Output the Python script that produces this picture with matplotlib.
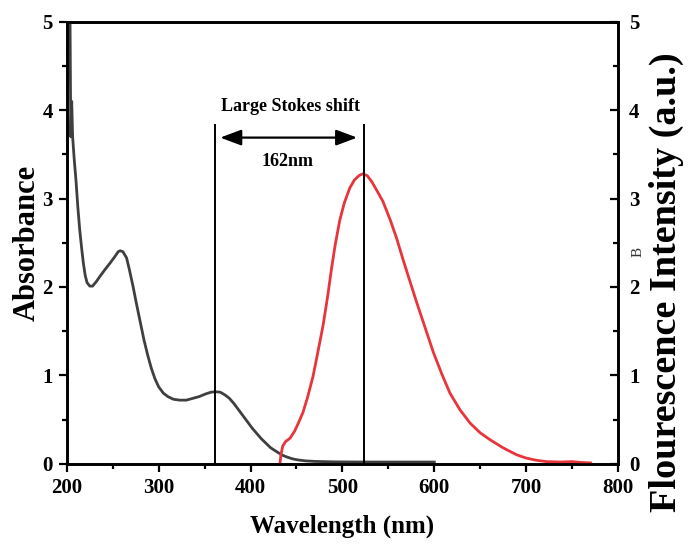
import matplotlib
matplotlib.use("Agg")
import matplotlib.pyplot as plt
from matplotlib.ticker import MultipleLocator

plt.rcParams['font.family'] = ['Liberation Serif', 'DejaVu Serif']
plt.rcParams['font.weight'] = 'bold'

# UV-Vis absorbance spectrum
abs_wl = [202.0, 203.0, 204.3, 205.3, 206.3, 208, 210, 212, 214, 216, 218, 220, 222,
          225, 228, 232, 236, 241, 247, 252, 256, 258, 261, 265, 268, 272, 276, 280,
          284, 288, 292, 296, 300, 305, 310, 316, 323, 330, 337, 344, 351, 357, 362,
          367, 372, 377, 382, 387, 392, 397, 402, 407, 412, 417, 422, 428, 434, 440,
          446, 452, 460, 470, 490, 520, 560, 600]
abs_val = [5.8, 5.8, 3.7, 4.1, 3.7, 3.45, 3.2, 2.9, 2.65, 2.45, 2.27, 2.13, 2.05,
           2.01, 2.01, 2.06, 2.12, 2.19, 2.27, 2.34, 2.40, 2.41, 2.40, 2.33, 2.20,
           2.01, 1.80, 1.60, 1.40, 1.23, 1.08, 0.96, 0.87, 0.80, 0.76, 0.73, 0.72,
           0.72, 0.74, 0.76, 0.79, 0.81, 0.815, 0.81, 0.78, 0.74, 0.68, 0.61, 0.54,
           0.47, 0.40, 0.34, 0.28, 0.23, 0.18, 0.14, 0.10, 0.075, 0.055, 0.043, 0.033,
           0.027, 0.022, 0.02, 0.02, 0.02]

# Fluorescence emission spectrum
em_wl = [432, 433, 435, 438, 443, 448, 452, 457, 462, 468, 473, 479, 484, 488, 492,
         497, 502, 508, 513, 518, 522, 527, 532, 537, 544, 552, 559, 566, 573, 581,
         590, 599, 608, 617, 628, 639, 650, 661, 675, 690, 700, 711, 722, 737, 750,
         760, 770]
em_val = [0.0, 0.10, 0.20, 0.25, 0.29, 0.37, 0.46, 0.58, 0.75, 0.99, 1.25, 1.57, 1.90,
          2.20, 2.47, 2.75, 2.95, 3.12, 3.21, 3.26, 3.28, 3.26, 3.19, 3.10, 2.97, 2.76,
          2.55, 2.31, 2.08, 1.82, 1.54, 1.26, 1.02, 0.80, 0.61, 0.46, 0.35, 0.27, 0.18,
          0.10, 0.065, 0.04, 0.025, 0.02, 0.025, 0.015, 0.01]

# Absorption max / emission max markers
abs_max_wl = 361
em_max_wl = 523
marker_top = 3.84
shift_label = "162nm"

x_ticks = [200, 300, 400, 500, 600, 700, 800]
y_ticks = [0, 1, 2, 3, 4, 5]

fig = plt.figure(figsize=(6.89, 5.45), dpi=100)
ax = fig.add_axes([0.097, 0.149, 0.800, 0.811])

ax.plot(abs_wl, abs_val, color='#3f3f3f', lw=2.0, solid_joinstyle='round', zorder=3)
ax.plot(em_wl, em_val, color='#e8353b', lw=2.0, solid_joinstyle='round', zorder=3)

ax.vlines([abs_max_wl, em_max_wl], 0, marker_top, colors='black', lw=1.4, zorder=4)
ax.annotate('', xy=(516, 3.69), xytext=(367, 3.69),
            arrowprops=dict(arrowstyle='<|-|>,head_length=0.8,head_width=0.3',
                            color='black', lw=1.6, shrinkA=0, shrinkB=0,
                            mutation_scale=16))
ax.text(443, 4.04, 'Large Stokes shift', ha='center', va='center',
        fontsize=13, fontweight='bold')
ax.text(440, 3.42, shift_label, ha='center', va='center',
        fontsize=13, fontweight='bold')

ax.set_xlim(200, 800)
ax.set_ylim(0, 5)
ax.set_xticks(x_ticks)
ax.set_yticks(y_ticks)
ax.xaxis.set_minor_locator(MultipleLocator(50))
ax.yaxis.set_minor_locator(MultipleLocator(0.5))

for s in ax.spines.values():
    s.set_linewidth(1.9)

ax.tick_params(axis='both', which='major', direction='out', length=6, width=1.6,
               labelsize=15, pad=4)
ax.tick_params(axis='both', which='minor', direction='out', length=3.5, width=1.6)
ax.tick_params(axis='x', top=False, which='both')
for lab in ax.get_xticklabels() + ax.get_yticklabels():
    lab.set_fontweight('bold')

ax.set_xlabel('Wavelength (nm)', fontsize=18, fontweight='bold', labelpad=12)
ax.set_ylabel('Absorbance', fontsize=22, fontweight='bold')
ax.yaxis.set_label_coords(-0.045, 0.5)

# Secondary intensity axis on the right
ax2 = ax.twinx()
ax2.set_ylim(0, 5)
ax2.set_yticks(y_ticks)
ax2.yaxis.set_minor_locator(MultipleLocator(0.5))
ax2.tick_params(axis='y', which='major', direction='in', length=6, width=1.6,
                labelsize=15, pad=8)
ax2.tick_params(axis='y', which='minor', direction='in', length=3.5, width=1.6)
for lab in ax2.get_yticklabels():
    lab.set_fontweight('bold')
for s in ax2.spines.values():
    s.set_linewidth(1.9)

fig.text(666 / 689, 1 - 282 / 545, 'Flourescence Intensity (a.u.)', rotation=90,
         fontsize=27.5, fontweight='bold', ha='center', va='center')
fig.text(638 / 689, 1 - 252 / 545, 'B', rotation=90, fontsize=11,
         fontweight='normal', ha='center', va='center', color='#333333')

fig.savefig('out.png', dpi=100)
